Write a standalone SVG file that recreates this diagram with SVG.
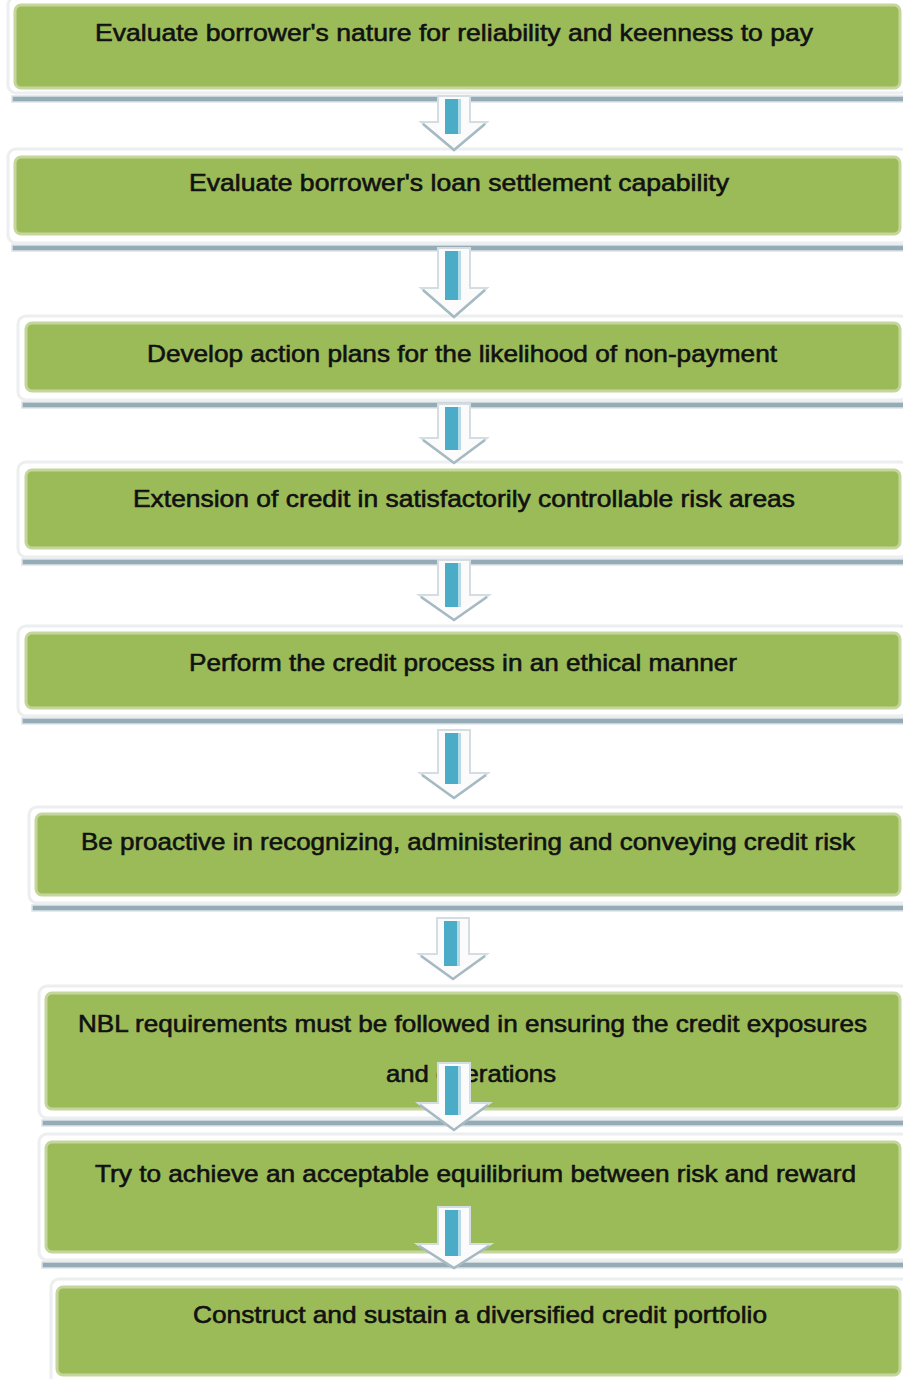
<svg xmlns="http://www.w3.org/2000/svg" width="903" height="1379" viewBox="0 0 903 1379">
  <style>
    .halo { fill: #ffffff; stroke: #eceeef; stroke-width: 3; }
    .shade { fill: #95acb7; stroke: #dce4e8; stroke-width: 1.5; }
    .face { fill: #9bbb59; stroke: #c4d69c; stroke-width: 3; }
    .label { font-family: "Liberation Sans", Arial, sans-serif; font-size: 24px; fill: #111111; stroke: #111111; stroke-width: 0.6; }
    .arrow-body { fill: #fbfbfb; stroke: #d3dde2; stroke-width: 2; stroke-linejoin: miter; }
    .arrow-edge { fill: none; stroke: #a6bac3; stroke-width: 2.5; }
    .arrow-core { fill: #4aacc6; }
    .arrow-glint { fill: #b3dbe7; }
  </style>

  <rect x="0" y="0" width="903" height="1379" fill="#ffffff"/>

  <!-- process steps -->
  <g id="step1">
    <rect class="shade" x="12" y="96" width="895" height="6"/>
    <rect class="halo" x="8" y="-3" width="900" height="96" rx="8"/>
    <rect class="face" x="15" y="5" width="885" height="83" rx="6"/>
    <text class="label" x="95" y="41" textLength="718" lengthAdjust="spacingAndGlyphs">Evaluate borrower's nature for reliability and keenness to pay</text>
  </g>

  <g id="step2">
    <rect class="shade" x="12" y="245" width="895" height="6"/>
    <rect class="halo" x="8" y="149" width="900" height="94" rx="8"/>
    <rect class="face" x="15" y="157" width="885" height="77" rx="6"/>
    <text class="label" x="189" y="191" textLength="540" lengthAdjust="spacingAndGlyphs">Evaluate borrower's loan settlement capability</text>
  </g>

  <g id="step3">
    <rect class="shade" x="22" y="402" width="885" height="6"/>
    <rect class="halo" x="18" y="316" width="890" height="84" rx="8"/>
    <rect class="face" x="26" y="323" width="874" height="68" rx="6"/>
    <text class="label" x="147" y="362" textLength="630" lengthAdjust="spacingAndGlyphs">Develop action plans for the likelihood of non-payment</text>
  </g>

  <g id="step4">
    <rect class="shade" x="22" y="559" width="885" height="6"/>
    <rect class="halo" x="18" y="462" width="890" height="95" rx="8"/>
    <rect class="face" x="26" y="470" width="874" height="78" rx="6"/>
    <text class="label" x="133" y="507" textLength="662" lengthAdjust="spacingAndGlyphs">Extension of credit in satisfactorily controllable risk areas</text>
  </g>

  <g id="step5">
    <rect class="shade" x="22" y="718" width="885" height="6"/>
    <rect class="halo" x="18" y="626" width="890" height="90" rx="8"/>
    <rect class="face" x="26" y="633" width="874" height="75" rx="6"/>
    <text class="label" x="189" y="671" textLength="548" lengthAdjust="spacingAndGlyphs">Perform the credit process in an ethical manner</text>
  </g>

  <g id="step6">
    <rect class="shade" x="32" y="905" width="875" height="6"/>
    <rect class="halo" x="29" y="807" width="880" height="96" rx="8"/>
    <rect class="face" x="36" y="814" width="864" height="81" rx="6"/>
    <text class="label" x="81" y="850" textLength="774" lengthAdjust="spacingAndGlyphs">Be proactive in recognizing, administering and conveying credit risk</text>
  </g>

  <g id="step7">
    <rect class="shade" x="42" y="1120" width="865" height="6"/>
    <rect class="halo" x="39" y="986" width="870" height="132" rx="8"/>
    <rect class="face" x="46" y="993" width="854" height="116" rx="6"/>
    <text class="label" x="78" y="1032" textLength="789" lengthAdjust="spacingAndGlyphs">NBL requirements must be followed in ensuring the credit exposures</text>
    <text class="label" x="386" y="1082" textLength="170" lengthAdjust="spacingAndGlyphs">and operations</text>
  </g>

  <g id="step8">
    <rect class="shade" x="42" y="1262" width="865" height="6"/>
    <rect class="halo" x="39" y="1134" width="870" height="126" rx="8"/>
    <rect class="face" x="46" y="1142" width="854" height="110" rx="6"/>
    <text class="label" x="95" y="1182" textLength="761" lengthAdjust="spacingAndGlyphs">Try to achieve an acceptable equilibrium between risk and reward</text>
  </g>

  <g id="step9">
    <rect class="halo" x="51" y="1279" width="860" height="110" rx="8"/>
    <rect class="face" x="57" y="1287" width="843" height="88" rx="6"/>
    <text class="label" x="193" y="1323" textLength="574" lengthAdjust="spacingAndGlyphs">Construct and sustain a diversified credit portfolio</text>
  </g>

  <!-- downward block arrows between steps -->
  <g id="connectors">
    <g>
      <path class="arrow-body" d="M438,96 H470 V122 H487 L454,150 L421,122 H438 Z"/>
      <path class="arrow-edge" d="M423,124 L454,150 L485,124"/>
      <rect class="arrow-core" x="445" y="99" width="13" height="35"/>
      <rect class="arrow-glint" x="458" y="99" width="3" height="35"/>
    </g>
    <g>
      <path class="arrow-body" d="M438,248 H470 V288 H487 L454,317 L421,288 H438 Z"/>
      <path class="arrow-edge" d="M423,290 L454,317 L485,290"/>
      <rect class="arrow-core" x="445" y="251" width="13" height="49"/>
      <rect class="arrow-glint" x="458" y="251" width="3" height="49"/>
    </g>
    <g>
      <path class="arrow-body" d="M438,404 H470 V438 H487 L454,463 L421,438 H438 Z"/>
      <path class="arrow-edge" d="M423,440 L454,463 L485,440"/>
      <rect class="arrow-core" x="445" y="407" width="13" height="43"/>
      <rect class="arrow-glint" x="458" y="407" width="3" height="43"/>
    </g>
    <g>
      <path class="arrow-body" d="M438,560 H470 V595 H489 L454,620 L419,595 H438 Z"/>
      <path class="arrow-edge" d="M421,597 L454,620 L487,597"/>
      <rect class="arrow-core" x="445" y="563" width="13" height="44"/>
      <rect class="arrow-glint" x="458" y="563" width="3" height="44"/>
    </g>
    <g>
      <path class="arrow-body" d="M438,730 H470 V773 H488 L454,798 L420,773 H438 Z"/>
      <path class="arrow-edge" d="M422,775 L454,798 L486,775"/>
      <rect class="arrow-core" x="445" y="733" width="13" height="51"/>
      <rect class="arrow-glint" x="458" y="733" width="3" height="51"/>
    </g>
    <g>
      <path class="arrow-body" d="M437,918 H469 V954 H487 L453,979 L419,954 H437 Z"/>
      <path class="arrow-edge" d="M421,956 L453,979 L485,956"/>
      <rect class="arrow-core" x="444" y="921" width="13" height="45"/>
      <rect class="arrow-glint" x="457" y="921" width="3" height="45"/>
    </g>
    <g>
      <path class="arrow-body" d="M438,1063 H470 V1103 H490 L454,1130 L418,1103 H438 Z"/>
      <path class="arrow-edge" d="M420,1105 L454,1130 L488,1105"/>
      <rect class="arrow-core" x="445" y="1066" width="13" height="49"/>
      <rect class="arrow-glint" x="458" y="1066" width="3" height="49"/>
    </g>
    <g>
      <path class="arrow-body" d="M438,1207 H470 V1244 H491 L454,1268 L417,1244 H438 Z"/>
      <path class="arrow-edge" d="M419,1246 L454,1268 L489,1246"/>
      <rect class="arrow-core" x="445" y="1210" width="13" height="46"/>
      <rect class="arrow-glint" x="458" y="1210" width="3" height="46"/>
    </g>
  </g>
</svg>
